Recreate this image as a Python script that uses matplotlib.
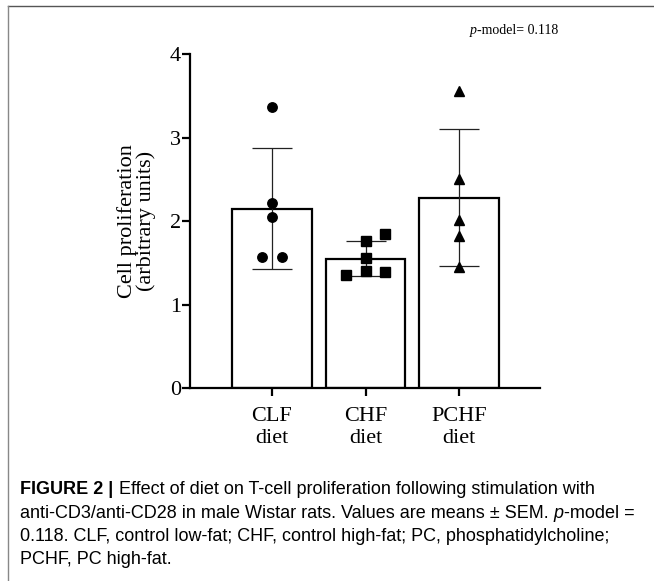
import numpy as np
import matplotlib
matplotlib.use("Agg")
import matplotlib.pyplot as plt
from matplotlib.lines import Line2D

# data
categories = ["CLF\ndiet", "CHF\ndiet", "PCHF\ndiet"]
means = [2.14, 1.545, 2.27]
err_low = [0.72, 0.20, 0.81]
err_high = [0.74, 0.215, 0.83]

clf_pts = [3.36, 2.21, 2.05, 1.565, 1.565]
clf_jit = [0, 0, 0, -0.105, 0.105]
chf_pts = [1.84, 1.76, 1.553, 1.405, 1.385, 1.353]
chf_jit = [0.21, 0, 0, 0, 0.21, -0.21]
pchf_pts = [3.56, 2.50, 2.01, 1.82, 1.45]
pchf_jit = [0, 0, 0, 0, 0]

serif = "Liberation Serif"
sans = "Liberation Sans"

fig = plt.figure(figsize=(6.54, 5.81), dpi=100)
ax = fig.add_axes([0.2905, 0.3322, 0.5352, 0.5748])

x = np.arange(len(categories))
ax.bar(x, means, width=0.855, color="white", edgecolor="black", linewidth=1.6, zorder=1)
ax.errorbar(x, means, yerr=[err_low, err_high], fmt="none", ecolor="#222222",
            elinewidth=0.9, capsize=14.5, capthick=0.9, zorder=2)

for i, (vals, jit, mk) in enumerate([(clf_pts, clf_jit, "o"),
                                      (chf_pts, chf_jit, "s"),
                                      (pchf_pts, pchf_jit, "^")]):
    ax.plot(i + np.array(jit), vals, linestyle="none", marker=mk, color="black",
            markersize=6.8, zorder=3)

ax.set_xlim(-0.877, 2.866)
ax.set_ylim(0, 4)
ax.set_yticks([0, 1, 2, 3, 4])
ax.set_xticks(x)
ax.set_xticklabels(categories, fontfamily=serif, fontsize=16, linespacing=1.15)
for lab in ax.get_yticklabels():
    lab.set_fontfamily(serif)
    lab.set_fontsize(16)
ax.tick_params(axis="both", width=1.6, length=6, color="black")
ax.tick_params(axis="x", pad=8)
ax.tick_params(axis="y", pad=0.5)
for s in ["top", "right"]:
    ax.spines[s].set_visible(False)
for s in ["left", "bottom"]:
    ax.spines[s].set_linewidth(1.6)
ax.set_ylabel("Cell proliferation\n(arbitrary units)", fontfamily=serif,
              fontsize=16, linespacing=0.93, labelpad=10)

# p-model note
t1 = fig.text(0.7187, 0.9415, "p", fontfamily=serif, style="italic", fontsize=10,
              va="baseline")
ax.annotate("-model= 0.118", xy=(1, 0), xycoords=t1, va="bottom", ha="left",
            fontfamily=serif, fontsize=10, annotation_clip=False)

# caption
cap_fs = 13
b = fig.text(0.031, 0.149, "FIGURE 2 |", fontfamily=sans, fontweight="bold",
             fontsize=cap_fs, va="baseline")
ax.annotate(" Effect of diet on T-cell proliferation following stimulation with",
            xy=(1, 0), xycoords=b, va="bottom", ha="left", fontfamily=sans,
            fontsize=cap_fs, annotation_clip=False)
l2 = fig.text(0.031, 0.109, "anti-CD3/anti-CD28 in male Wistar rats. Values are means \u00b1 SEM. ",
              fontfamily=sans, fontsize=cap_fs, va="baseline")
l2p = ax.annotate("p", xy=(1, 0), xycoords=l2, va="bottom", ha="left",
                  fontfamily=sans, style="italic", fontsize=cap_fs, annotation_clip=False)
ax.annotate("-model =", xy=(1, 0), xycoords=l2p, va="bottom", ha="left",
            fontfamily=sans, fontsize=cap_fs, annotation_clip=False)
fig.text(0.031, 0.069, "0.118. CLF, control low-fat; CHF, control high-fat; PC, phosphatidylcholine;",
         fontfamily=sans, fontsize=cap_fs, va="baseline")
fig.text(0.031, 0.029, "PCHF, PC high-fat.", fontfamily=sans, fontsize=cap_fs, va="baseline")

# outer frame
fig.add_artist(Line2D([0.0115, 1.0], [0.9897, 0.9897], color="#555555", linewidth=1.0))
fig.add_artist(Line2D([0.0115, 0.0115], [0.0, 0.9897], color="#888888", linewidth=1.0))

fig.savefig("out.png", dpi=100)
